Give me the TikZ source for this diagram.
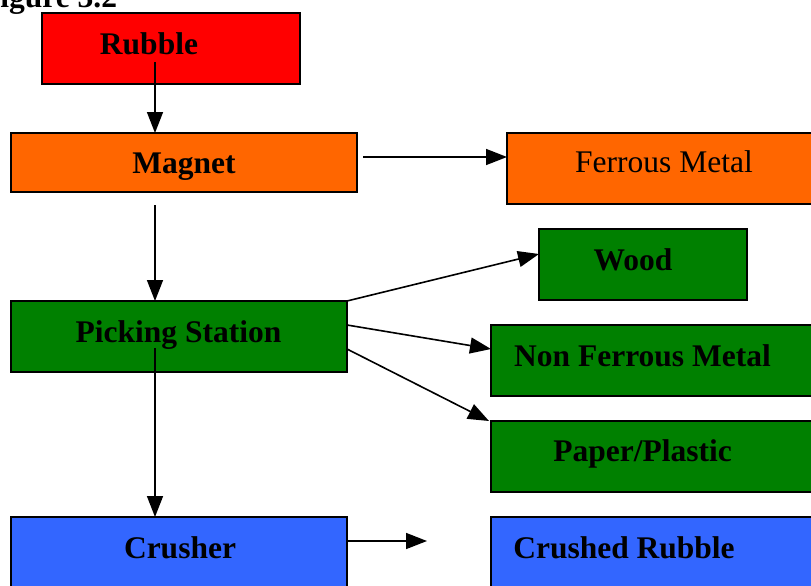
\documentclass[tikz,border=0pt]{standalone}
\usepackage{fontspec}
\setmainfont{Liberation Serif}
\usetikzlibrary{arrows.meta}
\definecolor{cred}{HTML}{FF0000}
\definecolor{corange}{HTML}{FF6600}
\definecolor{cgreen}{HTML}{008000}
\definecolor{cblue}{HTML}{3366FF}
\begin{document}
\begin{tikzpicture}[x=1pt,y=1pt,
  box/.style={draw=black,line width=1.6pt,rectangle,inner sep=0pt,outer sep=0pt},
  lbl/.style={anchor=base,inner sep=0pt,font=\fontsize{31.5}{36}\selectfont\bfseries},
  lblr/.style={anchor=base,inner sep=0pt,font=\fontsize{31.5}{36}\selectfont},
  conn/.style={line width=1.6pt,-{Triangle[length=21pt,width=16pt]}}]
\clip (0,0) rectangle (811,-586);
\useasboundingbox (0,0) rectangle (811,-586);
% boxes
\node[box,fill=cred,minimum width=258pt,minimum height=71pt] (rubble) at (171,-48.5) {};
\node[box,fill=corange,minimum width=346pt,minimum height=59pt] (magnet) at (184,-162.5) {};
\node[box,fill=corange,minimum width=308pt,minimum height=71pt] (ferrous) at (661,-168.5) {};
\node[box,fill=cgreen,minimum width=208pt,minimum height=71pt] (wood) at (643,-264.5) {};
\node[box,fill=cgreen,minimum width=336pt,minimum height=71pt] (picking) at (179,-336.5) {};
\node[box,fill=cgreen,minimum width=324pt,minimum height=71pt] (nonferrous) at (653,-360.5) {};
\node[box,fill=cgreen,minimum width=324pt,minimum height=71pt] (paper) at (653,-456.5) {};
\node[box,fill=cblue,minimum width=336pt,minimum height=80pt] (crusher) at (179,-557) {};
\node[box,fill=cblue,minimum width=324pt,minimum height=80pt] (crushed) at (653,-557) {};
% labels
\node[lbl,anchor=base west] (title) at (-19,-8) {Figure 3.2};
\node[lbl] (trubble) at (149,-55) {Rubble};
\node[lbl] (tmagnet) at (184,-173) {Magnet};
\node[lblr] (tferrous) at (664,-172.5) {Ferrous Metal};
\node[lbl] (twood) at (633,-270) {Wood};
\node[lbl] (tpicking) at (178.5,-342) {Picking Station};
\node[lbl] (tnonferrous) at (642.5,-366) {Non Ferrous Metal};
\node[lbl] (tpaper) at (642.5,-461) {Paper/Plastic};
\node[lbl] (tcrusher) at (180,-558) {Crusher};
\node[lbl] (tcrushed) at (624,-558) {Crushed Rubble};
% connectors
\coordinate (crushend) at (427,-541);
\draw[conn] ([xshift=-16pt,yshift=-13.5pt]rubble.center) -- ([xshift=-29pt]magnet.north);
\draw[conn] ([xshift=6pt,yshift=5.5pt]magnet.east) -- ([yshift=11.5pt]ferrous.west);
\draw[conn] ([xshift=-29pt,yshift=-13pt]magnet.south) -- ([xshift=-24pt]picking.north);
\draw[conn] ([xshift=-24pt,yshift=-11.5pt]picking.center) -- ([xshift=-24pt]crusher.north);
\draw[conn] ([yshift=16pt]crusher.east) -- (crushend);
\draw[conn] (picking.north east) -- ([yshift=10.5pt]wood.west);
\draw[conn] ([yshift=11.5pt]picking.east) -- ([yshift=11.5pt]nonferrous.west);
\draw[conn] ([yshift=-12.5pt]picking.east) -- ([xshift=-2pt]paper.north west);
\end{tikzpicture}
\end{document}
